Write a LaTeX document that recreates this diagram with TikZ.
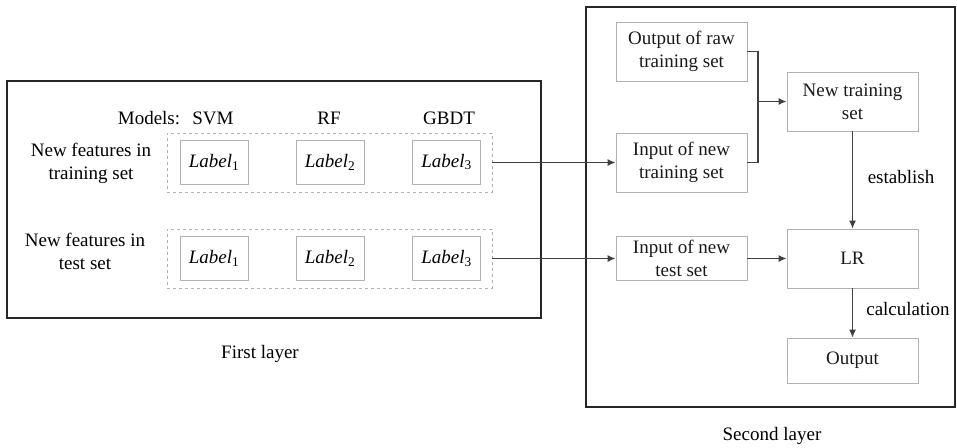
\documentclass[tikz,border=0pt]{standalone}
\usepackage{fontspec}
\setmainfont{Liberation Serif}
\usetikzlibrary{arrows.meta}

\begin{document}
\begin{tikzpicture}[x=1pt,y=-1pt,
  font=\fontsize{19}{23}\selectfont,
  layer/.style={draw=black!85,line width=2.2pt},
  group/.style={draw=black!30,dashed,line width=0.8pt,inner sep=0pt,minimum width=325pt,minimum height=59pt},
  lbl/.style={draw=black!30,line width=0.8pt,inner sep=0pt,minimum width=68pt,minimum height=44pt},
  blk/.style={draw=black!30,line width=0.8pt,inner sep=0pt,minimum width=131pt,align=center,text=black!90},
  link/.style={draw=black!75,line width=1.3pt},
  arr/.style={link,-{Latex[length=8pt,width=7pt]}}]
\useasboundingbox (0,0) rectangle (957,447);
\path[layer] (7,81) rectangle (541,318);
\path[layer] (586,7) rectangle (955,407);
\node (L1) at (260,354) {First layer};
\node (L2) at (772,436) {Second layer};
% first layer
\node (mod) at (149,118) {Models:};
\node (svm) at (213,118) {SVM};
\node (rf) at (329,118) {RF};
\node (gbdt) at (449,118) {GBDT};
\node[align=center] (ftrain) at (91,163) {New features in\\training set};
\node[align=center] (ftest) at (85,251) {New features in\\test set};
\node[group] (g1) at (329.5,162.5) {};
\node[group] (g2) at (329.5,258.5) {};
\node[lbl] (a1) at (214,162) {\textit{Label}\textsubscript{1}};
\node[lbl] (a2) at (330,162) {\textit{Label}\textsubscript{2}};
\node[lbl] (a3) at (446.5,162) {\textit{Label}\textsubscript{3}};
\node[lbl] (b1) at (214,258.5) {\textit{Label}\textsubscript{1}};
\node[lbl] (b2) at (330,258.5) {\textit{Label}\textsubscript{2}};
\node[lbl] (b3) at (446.5,258.5) {\textit{Label}\textsubscript{3}};
% second layer
\node[blk,minimum height=59pt] (outraw) at (681.5,51.5) {Output of raw\\training set};
\node[blk,minimum height=59pt] (intrain) at (681.5,162.5) {Input of new\\training set};
\node[blk,minimum height=44pt] (intest) at (681.5,258.5) {Input of new\\test set};
\node[blk,minimum height=59pt] (newtrain) at (852.5,101.5) {New training\\set};
\node[blk,minimum height=59pt] (lr) at (852.5,258.5) {LR};
\node[blk,minimum height=45pt] (out) at (852.5,360.5) {Output};
\coordinate (mg) at (758,101.5);
\path[arr] (g1.east) -- (intrain.west);
\path[arr] (g2.east) -- (intest.west);
\path[link] (outraw.east) -| (mg) |- (intrain.east);
\path[arr] (mg) -- (newtrain.west);
\path[arr] (intest.east) -- (lr.west);
\path[arr] (newtrain.south) -- (lr.north);
\path[arr] (lr.south) -- (out.north);
\node (est) at (901,177) {establish};
\node (calc) at (908,309) {calculation};
\end{tikzpicture}
\end{document}
